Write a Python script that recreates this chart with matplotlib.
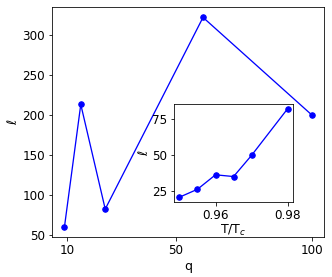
import matplotlib
matplotlib.use("Agg")
import matplotlib.pyplot as plt

q = [9, 15, 24, 60, 100]
ell = [60, 213, 82, 322, 200]
q_ticks = [10, 50, 100]

t_ratio = [0.950, 0.955, 0.960, 0.965, 0.970, 0.980]
ell_inset = [21, 26.5, 36.5, 35.3, 50, 82.3]
inset_xticks = [0.96, 0.98]
inset_yticks = [25, 50, 75]

fig = plt.figure(figsize=(332/72, 277/72), dpi=72)
ax = fig.add_axes([0.157, 0.144, 0.819, 0.831])
ax.plot(q, ell, '-o', color='blue', markersize=5.5, linewidth=1.3)
ax.set_xticks(q_ticks)
ax.set_xlabel('q', fontsize=12.5, labelpad=3)
ax.set_ylabel(r'$\ell$', fontsize=12.5, labelpad=2)
ax.tick_params(labelsize=12)

axi = fig.add_axes([0.524, 0.272, 0.359, 0.352])
axi.plot(t_ratio, ell_inset, '-o', color='blue', markersize=5.5, linewidth=1.3)
axi.set_xticks(inset_xticks)
axi.set_yticks(inset_yticks)
axi.set_xlabel(r'T/T$_c$', fontsize=12.5, labelpad=1)
axi.set_ylabel(r'$\ell$', fontsize=12.5, labelpad=1)
axi.tick_params(labelsize=12)

fig.savefig('out.png', dpi=72)
